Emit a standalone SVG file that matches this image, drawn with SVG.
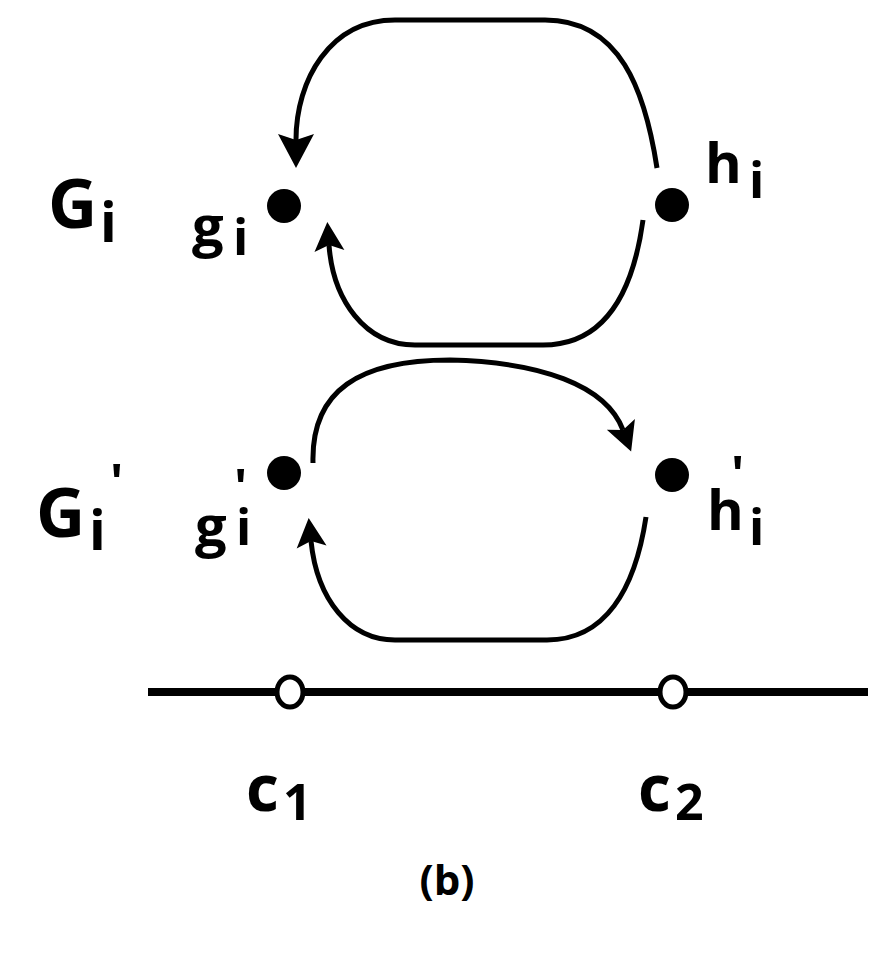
<svg xmlns="http://www.w3.org/2000/svg" width="882" height="980" viewBox="0 0 882 980">
<style>
.t{font-family:"Comic Sans MS","Open Sans","Liberation Sans",sans-serif;font-weight:bold;fill:#000}
.arc{fill:none;stroke:#000;stroke-width:5;stroke-linecap:butt}
</style>
<defs>
<marker id="ahL" markerUnits="userSpaceOnUse" markerWidth="40" markerHeight="40" viewBox="0 -20 40 40" refX="6" refY="0" orient="auto" overflow="visible">
<path d="M0,-18 L34,0 L0,18 L6,0 Z" fill="#000"/>
</marker>
<marker id="ahS" markerUnits="userSpaceOnUse" markerWidth="36" markerHeight="36" viewBox="0 -18 36 36" refX="6" refY="0" orient="auto" overflow="visible">
<path d="M0,-15 L29,0 L0,15 L6,0 Z" fill="#000"/>
</marker>
</defs>
<rect width="882" height="980" fill="#fff"/>
<g id="connectors">
<path class="arc" d="M657,168 C645,90 620,20 545,20 L395,20 C330,20 296,80 296,140" marker-end="url(#ahL)"/>
<path class="arc" d="M643,220 C632,300 600,345 543,345 L415,345 C365,345 333,300 329,245" marker-end="url(#ahS)"/>
<path class="arc" d="M313,463 C311,390 360,360 450,360 C540,362 606,385 623,430" marker-end="url(#ahS)"/>
<path class="arc" d="M646,517 C635,590 605,640 547,640 L395,640 C350,640 317,600 311,541" marker-end="url(#ahS)"/>
</g>
<g id="label-Gi"><text class="t" font-size="68"><tspan x="48" y="228">G</tspan><tspan x="100" y="242" font-size="55">i</tspan></text></g>
<g id="label-Gi-prime"><text class="t" font-size="68"><tspan x="36" y="537">G</tspan><tspan x="89" y="550" font-size="55">i</tspan><tspan x="110" y="500" font-size="50">'</tspan></text></g>
<g id="node-gi"><circle cx="284" cy="206" r="17" fill="#000"/><text class="t" font-size="56"><tspan x="192" y="246">g</tspan><tspan x="233" y="255" font-size="50">i</tspan></text></g>
<g id="node-hi"><circle cx="672" cy="205" r="17" fill="#000"/><text class="t" font-size="56"><tspan x="705" y="183">h</tspan><tspan x="749" y="198" font-size="50">i</tspan></text></g>
<g id="node-gi-prime"><circle cx="284" cy="473" r="17" fill="#000"/><text class="t" font-size="56"><tspan x="195" y="546">g</tspan><tspan x="234" y="505" font-size="50">'</tspan><tspan x="236" y="545" font-size="50">i</tspan></text></g>
<g id="node-hi-prime"><circle cx="672" cy="475" r="17" fill="#000"/><text class="t" font-size="56"><tspan x="707" y="530">h</tspan><tspan x="731" y="492" font-size="50">'</tspan><tspan x="749" y="545" font-size="50">i</tspan></text></g>
<g id="axis">
<line x1="148" y1="692" x2="868" y2="692" stroke="#000" stroke-width="8"/>
</g>
<g id="node-c1"><ellipse cx="290" cy="692" rx="13" ry="15" fill="#fff" stroke="#000" stroke-width="5"/><text class="t" font-size="64"><tspan x="246" y="811">c</tspan><tspan x="283" y="820" font-size="50">1</tspan></text></g>
<g id="node-c2"><ellipse cx="673" cy="692" rx="13" ry="15" fill="#fff" stroke="#000" stroke-width="5"/><text class="t" font-size="64"><tspan x="638" y="811">c</tspan><tspan x="675" y="820" font-size="50">2</tspan></text></g>
<g id="caption"><text class="t" x="447" y="895" font-size="42" text-anchor="middle">(b)</text></g>
</svg>
